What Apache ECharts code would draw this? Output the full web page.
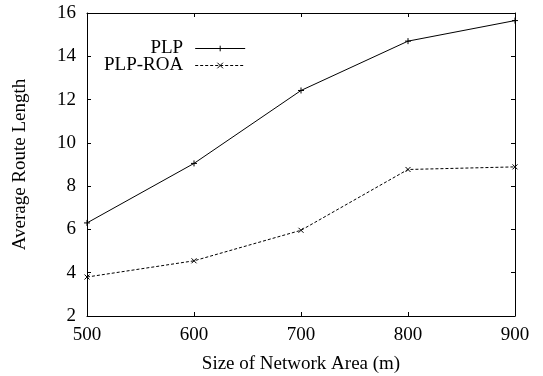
<!DOCTYPE html>
<html>
<head>
<meta charset="utf-8">
<script src="https://cdn.jsdelivr.net/npm/echarts@6/dist/echarts.min.js"></script>
<style>
  html, body { margin: 0; padding: 0; background: #fff; }
  #chart { width: 543px; height: 376px; }
</style>
</head>
<body>
<div id="chart"></div>
<script>
// Network area sizes (m) along the x axis
const areaSizes = [500, 600, 700, 800, 900];
// Average route length per protocol
const plpValues = [6.3, 9.05, 12.42, 14.7, 15.65];
const plpRoaValues = [3.8, 4.55, 5.96, 8.77, 8.89];
const yTicks = [2, 4, 6, 8, 10, 12, 14, 16];

const FONT = '"Liberation Serif", "DejaVu Serif", serif';
const FS = 19;
const plusSymbol = 'path://M0,5L10,5M5,0L5,10';
const crossSymbol = 'path://M0,0L10,10M10,0L0,10';

const chart = echarts.init(document.getElementById('chart'), null, { renderer: 'canvas' });

const baseX = {
  type: 'value', min: 500, max: 900, interval: 100,
  axisLine: { show: true, onZero: false, lineStyle: { color: '#000', width: 1 } },
  axisTick: { show: true, inside: true, length: 4, lineStyle: { color: '#000' } },
  splitLine: { show: false }
};
const baseY = {
  type: 'value', min: yTicks[0], max: yTicks[yTicks.length - 1], interval: 2,
  axisLine: { show: true, onZero: false, lineStyle: { color: '#000', width: 1 } },
  axisTick: { show: true, inside: true, length: 4, lineStyle: { color: '#000' } },
  splitLine: { show: false }
};

chart.setOption({
  animation: false,
  backgroundColor: '#fff',
  textStyle: { fontFamily: FONT, color: '#000' },
  grid: { left: 87, right: 28, top: 13, bottom: 60, containLabel: false, outerBoundsMode: 'none' },
  legend: {
    orient: 'vertical',
    align: 'right',
    left: 99,
    top: 34,
    itemWidth: 50,
    itemHeight: 7,
    itemGap: -2,
    lineStyle: { width: 1 },
    itemStyle: { borderWidth: 1 },
    textStyle: { fontFamily: FONT, fontSize: FS, lineHeight: 18, color: '#000', padding: [0, 7, 0, 0] },
    data: ['PLP', 'PLP-ROA']
  },
  xAxis: [
    Object.assign({}, baseX, {
      position: 'bottom',
      name: 'Size of Network Area (m)',
      nameLocation: 'middle',
      nameGap: 39,
      nameTextStyle: { fontFamily: FONT, fontSize: FS, color: '#000' },
      axisLabel: { show: true, margin: 10, fontFamily: FONT, fontSize: FS, color: '#000' }
    }),
    Object.assign({}, baseX, { position: 'top', axisLabel: { show: false } })
  ],
  yAxis: [
    Object.assign({}, baseY, {
      position: 'left',
      name: 'Average Route Length',
      nameLocation: 'middle',
      nameGap: 57,
      nameRotate: 90,
      nameTextStyle: { fontFamily: FONT, fontSize: FS, color: '#000' },
      axisLabel: { show: true, margin: 11, fontFamily: FONT, fontSize: FS, color: '#000' }
    }),
    Object.assign({}, baseY, { position: 'right', axisLabel: { show: false } })
  ],
  series: [
    {
      name: 'PLP',
      type: 'line',
      data: areaSizes.map((x, i) => [x, plpValues[i]]),
      symbol: plusSymbol,
      symbolSize: 6,
      showAllSymbol: true,
      clip: false,
      lineStyle: { color: '#000', width: 1, type: 'solid' },
      itemStyle: { color: '#000', borderColor: '#000', borderWidth: 1 }
    },
    {
      name: 'PLP-ROA',
      type: 'line',
      data: areaSizes.map((x, i) => [x, plpRoaValues[i]]),
      symbol: crossSymbol,
      symbolSize: 5,
      showAllSymbol: true,
      clip: false,
      lineStyle: { color: '#000', width: 1, type: [3, 2] },
      itemStyle: { color: '#000', borderColor: '#000', borderWidth: 1 }
    }
  ]
});
</script>
</body>
</html>
